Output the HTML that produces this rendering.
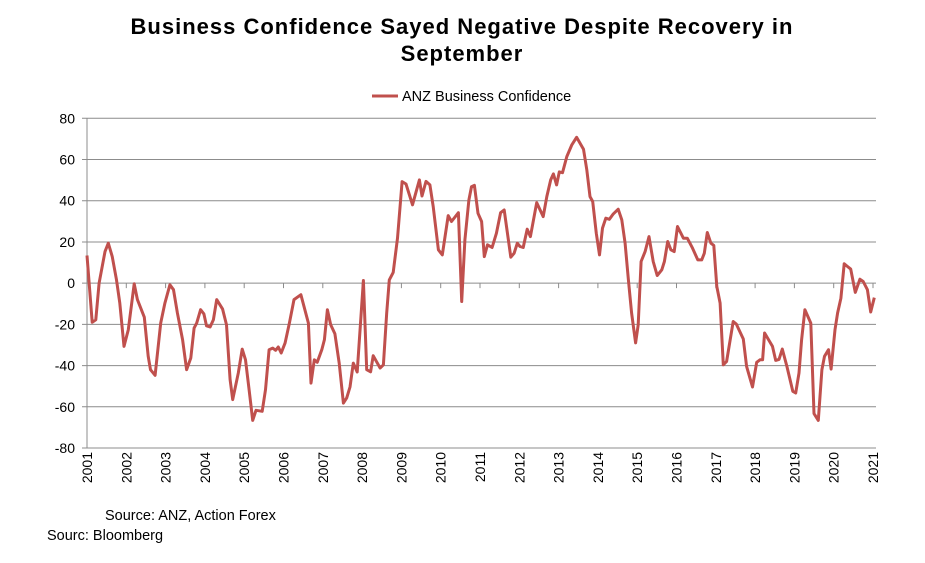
<!DOCTYPE html>
<html><head><meta charset="utf-8"><style>
body{margin:0;background:#fff;font-family:"Liberation Sans",Arial,sans-serif;}
#wrap{position:relative;width:925px;height:563px;overflow:hidden;}
</style></head><body>
<div id="wrap">
<svg id="chart" width="925" height="563" xmlns="http://www.w3.org/2000/svg">
<text x="462" y="34" text-anchor="middle" font-size="22" font-weight="bold" letter-spacing="1" fill="#000">Business Confidence Sayed Negative Despite Recovery in</text>
<text x="462" y="61" text-anchor="middle" font-size="22" font-weight="bold" letter-spacing="1" fill="#000">September</text>
<g>
<line x1="372" y1="96" x2="398" y2="96" stroke="#c0504d" stroke-width="3"/>
<text x="402" y="101" font-size="14.5" fill="#000">ANZ Business Confidence</text>
</g>
<g id="grid"></g>
<g id="axes"></g>
<g id="series"></g>
<text x="105" y="520" font-size="14.5" fill="#000">Source: ANZ, Action Forex</text>
<text x="47" y="540" font-size="14.5" fill="#000">Sourc: Bloomberg</text>
</svg>
</div>
<script>
const yTicks=[80,60,40,20,0,-20,-40,-60,-80];
const yearLabels=["2001","2002","2003","2004","2005","2006","2007","2008","2009","2010","2011","2012","2013","2014","2015","2016","2017","2018","2019","2020","2021"];
const months=[0,1.6,2.7,3.7,5.5,6.5,7.7,9,10,11.3,12.6,14.4,15.4,17.5,18.7,19.4,20.8,22.5,23.8,25.3,26.4,27.6,29.2,30.4,31.7,32.7,33.5,34.7,35.7,36.5,37.6,38.6,39.6,41.4,42.6,43.7,44.5,46.2,47.4,48.4,49.5,50.6,51.6,53.5,54.5,55.6,56.7,57.6,58.4,59.3,60.5,61.8,63.2,65.3,67.6,68.4,69.4,70.3,71.7,72.5,73.4,74.4,75.7,77,78.3,79.3,80.3,81.3,82.5,84.4,85.4,86.6,87.4,89.5,90.5,91.5,92.3,93.5,94.8,96.2,97.4,99.4,101.5,102.3,103.5,104.7,105.7,107.3,108.5,110.3,111.3,113.4,114.4,115.4,116.6,117.4,118.3,119.4,120.5,121.3,122.3,123.7,125,126.3,127.4,128.1,129.4,130.4,131.4,132.2,133.2,134.4,135.4,137.3,139.3,140.4,141.6,142.4,143.4,144.2,145.2,146.5,148,149.5,151.6,152.6,153.6,154.4,155.5,156.5,157.4,158.4,159.5,160.7,162.2,163.3,164.3,165.3,166.3,167.5,168.3,169.2,170.4,171.6,172.9,174.1,175.5,176.3,177.3,178.3,179.3,180.3,182.1,183.3,184.9,186.5,187.7,188.5,189.4,190.5,191.4,192.3,193.3,194.3,195.3,197.3,198.3,200.4,201.4,203.2,204.5,205.5,206.3,206.9,209.3,210.3,211.3,212.3,213.7,215.5,216.4,217.4,218.2,219.2,221,222,223.3,224.4,225.2,226.4,227.2,228.4,229.2,230.2,231.2,232.2,233.2,234.6,236,237,238.3,239.3,240.4];
const values=[13.4,-19,-17.8,0,15.3,19.4,13,1.6,-9.7,-30.7,-22.6,-0.3,-8,-16.5,-35.5,-42,-44.7,-19.4,-9.7,-0.8,-3.2,-14.5,-27.5,-42,-36.3,-21.8,-19.4,-12.9,-14.9,-20.7,-21.3,-17.8,-8,-12.6,-20.2,-46.8,-56.5,-43.6,-32,-37.2,-51.7,-66.6,-61.7,-62.2,-51.7,-32.3,-31.5,-32.6,-31,-33.9,-29,-19.4,-8,-5.6,-19.4,-48.5,-37.2,-38.4,-32.3,-27.5,-12.9,-20.2,-24.6,-38.8,-58.2,-55.7,-50.4,-38.8,-43.1,1.3,-42,-43,-35.2,-41.2,-39.6,-14.5,1.6,5.2,21.8,49.3,48.1,38,50.1,42.3,49.4,47.7,37.2,16.2,13.7,32.8,29.9,34.2,-8.9,21,40.4,46.8,47.5,33.9,29.9,12.9,18.6,17.3,24.2,34.2,35.5,27.5,12.6,14.5,19.4,17.8,17.3,26.2,22.6,39.1,32.3,42,50.1,53,47.7,54,53.6,61.4,67,70.8,65,55,42,39.6,24.2,13.7,26.7,31.5,31,33.6,35.9,30.7,19.4,1.6,-14.5,-29,-20.2,10.5,15.3,22.6,10.5,3.7,6.5,10.5,20.2,16.2,15.3,27.5,21.8,21.8,17,11.3,11.3,14.5,24.6,19.4,18.3,-1.6,-9.7,-39.6,-38,-18.6,-19.9,-27.1,-40.4,-50.4,-38.4,-37.2,-37.2,-24.2,-30.7,-37.5,-37,-32,-40.4,-52.5,-53.3,-43.6,-27.5,-12.9,-19.4,-63.3,-66.6,-42,-35.5,-32.3,-41.7,-22.6,-14.5,-7.3,9.4,8.1,6.8,-4.5,1.9,0.8,-3.2,-14,-7];

const NS="http://www.w3.org/2000/svg";
const L=87,R=876,T=118.3,B=448;
const yMin=-80,yMax=80;
function yS(v){return B-(v-yMin)/(yMax-yMin)*(B-T);}
function xS(m){return L+m*(873-L)/240;}
function mk(tag,attrs,parent){const e=document.createElementNS(NS,tag);for(const k in attrs)e.setAttribute(k,attrs[k]);parent.appendChild(e);return e;}
const grid=document.getElementById('grid'),axes=document.getElementById('axes'),series=document.getElementById('series');
yTicks.forEach(v=>{
  const y=yS(v);
  const gl=mk('line',{x1:L-5,x2:R,y1:y,y2:y,stroke:'#8c8c8c','stroke-width':1},grid);
  
  
  const t=mk('text',{x:L-12,y:y+5,'text-anchor':'end','font-size':14,fill:'#000'},axes);
  t.textContent=v;
  
  
});
const ya=mk('line',{x1:L,x2:L,y1:T,y2:B,stroke:'#8c8c8c','stroke-width':1},axes);


yearLabels.forEach((lab,i)=>{
  const x=xS(i*12);
  const tk=mk('line',{x1:x,x2:x,y1:yS(0),y2:yS(0)+5,stroke:'#8c8c8c','stroke-width':1},axes);
  
  
  const t=mk('text',{x:0,y:0,'text-anchor':'end','font-size':14,fill:'#000',transform:`translate(${x+5},${B+4}) rotate(-90)`},axes);
  t.textContent=lab;
  
  
});
const pts=months.map((m,i)=>xS(m).toFixed(1)+','+yS(values[i]).toFixed(1)).join(' ');
const pl=mk('polyline',{points:pts,fill:'none',stroke:'#c0504d','stroke-width':3,'stroke-linejoin':'round'},series);


</script>
</body></html>
